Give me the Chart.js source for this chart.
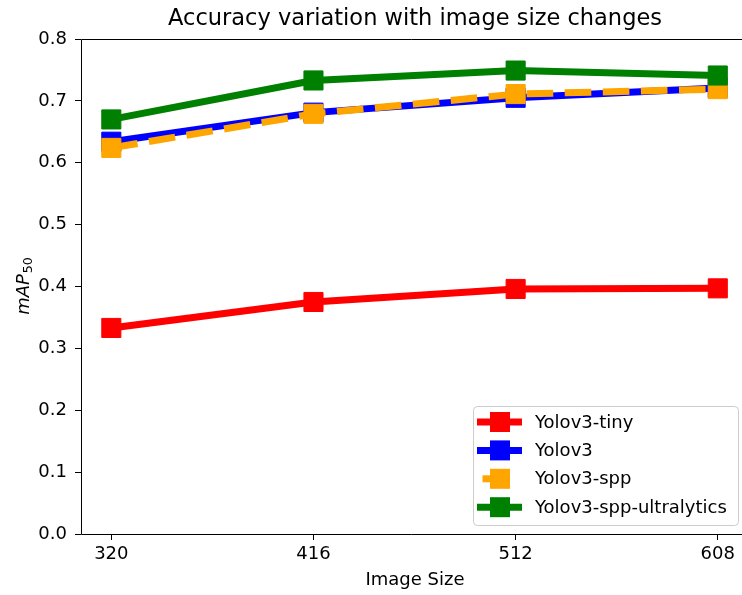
<!DOCTYPE html>
<html>
<head>
<meta charset="utf-8">
<script src="https://cdn.jsdelivr.net/npm/chart.js@4/dist/chart.umd.min.js"></script>
<style>
  html, body { margin: 0; padding: 0; background: #fff; }
  canvas { display: block; }
</style>
</head>
<body>
<canvas id="myChart" width="742" height="595"></canvas>
<script>
// image sizes and mAP50 per model
const sizes = [320, 416, 512, 608];
const tiny = [0.333, 0.375, 0.396, 0.397];
const yolov3 = [0.634, 0.681, 0.705, 0.721];
const spp = [0.624, 0.679, 0.711, 0.719];
const ultra = [0.670, 0.733, 0.749, 0.741];
const names = ['Yolov3-tiny', 'Yolov3', 'Yolov3-spp', 'Yolov3-spp-ultralytics'];
const colors = ['#ff0000', '#0000ff', '#ffa500', '#008000'];
const yTicks = [0, 0.1, 0.2, 0.3, 0.4, 0.5, 0.6, 0.7, 0.8];

const FONT = 'DejaVu Sans';
const DASH = [26.6, 11.5];
const ctx = document.getElementById('myChart').getContext('2d');

function makeSet(i, values, dashed) {
    return {
        label: names[i],
        data: sizes.map((s, k) => ({x: s, y: values[k]})),
        borderColor: colors[i],
        backgroundColor: colors[i],
        borderWidth: 7,
        borderDash: dashed ? DASH : [],
        borderCapStyle: 'butt',
        borderJoinStyle: 'round',
        pointStyle: 'rect',
        pointRadius: 13.5,
        pointBorderWidth: 1,
        pointBorderColor: colors[i],
        pointBackgroundColor: colors[i],
        tension: 0,
        order: 3 - i
    };
}

// axes frame, title, axis titles and legend
const decor = {
    id: 'decor',
    afterDatasetsDraw(chart) {
        const c = chart.ctx;
        const a = chart.chartArea;
        c.save();
        c.strokeStyle = '#000';
        c.lineWidth = 1;
        c.beginPath();
        c.moveTo(742, a.top + 0.5);
        c.lineTo(a.left + 0.5, a.top + 0.5);
        c.lineTo(a.left + 0.5, a.bottom + 0.5);
        c.lineTo(742, a.bottom + 0.5);
        c.stroke();

        const cx = (a.left + 749) / 2;
        c.fillStyle = '#000';
        c.textAlign = 'center';
        c.textBaseline = 'alphabetic';
        c.font = '22.5px "' + FONT + '"';
        c.fillText('Accuracy variation with image size changes', cx, 25);

        c.font = '18px "' + FONT + '"';
        c.fillText('Image Size', cx, 585);

        // y title: italic mAP with subscript 50
        c.save();
        c.translate(29, (a.top + a.bottom) / 2);
        c.rotate(-Math.PI / 2);
        c.font = 'italic 18px "' + FONT + '"';
        const w1 = c.measureText('mAP').width;
        c.font = '12.6px "' + FONT + '"';
        const w2 = c.measureText('50').width;
        const x0 = -(w1 + w2) / 2;
        c.textAlign = 'left';
        c.font = 'italic 18px "' + FONT + '"';
        c.fillText('mAP', x0, 0);
        c.font = '12.6px "' + FONT + '"';
        c.fillText('50', x0 + w1 + 1, 3);
        c.restore();

        // legend
        const lx = 473, ly = 406, lw = 265, lh = 119;
        c.beginPath();
        c.roundRect(lx + 0.5, ly + 0.5, lw, lh, 4);
        c.fillStyle = 'rgba(255,255,255,0.8)';
        c.fill();
        c.strokeStyle = '#cccccc';
        c.stroke();
        chart.data.datasets.forEach((ds, i) => {
            const y = 422 + i * 28.4;
            c.save();
            c.strokeStyle = ds.borderColor;
            c.lineWidth = 7;
            c.lineCap = 'butt';
            c.setLineDash(ds.borderDash);
            c.lineDashOffset = ds.borderDash.length ? 32.6 : 0;
            c.beginPath();
            c.moveTo(477, y);
            c.lineTo(ds.borderDash.length ? 512 : 522, y);
            c.stroke();
            c.restore();
            c.fillStyle = ds.backgroundColor;
            c.fillRect(490, y - 10, 20, 20);
            c.fillStyle = '#000';
            c.textAlign = 'left';
            c.textBaseline = 'middle';
            c.font = '18px "' + FONT + '"';
            c.fillText(ds.label, 535, y + 1);
        });
        c.restore();
    }
};

const myChart = new Chart(ctx, {
    type: 'line',
    data: {
        datasets: [
            makeSet(0, tiny, false),
            makeSet(1, yolov3, false),
            makeSet(2, spp, true),
            makeSet(3, ultra, false)
        ]
    },
    options: {
        responsive: false,
        animation: false,
        devicePixelRatio: 1,
        layout: { autoPadding: false, padding: { top: 39, right: 0, left: 0, bottom: 0 } },
        plugins: {
            legend: { display: false },
            title: { display: false },
            tooltip: { enabled: false }
        },
        scales: {
            x: {
                type: 'linear',
                min: 305.6,
                max: 619.5,
                afterBuildTicks: axis => { axis.ticks = sizes.map(v => ({value: v})); },
                afterFit: axis => {
                    axis.height = 61;
                    axis.paddingLeft = 0;
                    axis.paddingRight = 0;
                },
                ticks: {
                    color: '#000',
                    font: { family: FONT, size: 18 },
                    padding: 4,
                    maxRotation: 0,
                    callback: v => String(v)
                },
                grid: { drawOnChartArea: false, drawTicks: true, tickLength: 6, color: '#000' },
                border: { display: false }
            },
            y: {
                min: 0,
                max: 0.8,
                afterBuildTicks: axis => { axis.ticks = yTicks.map(v => ({value: v})); },
                afterFit: axis => { axis.width = 81; },
                ticks: {
                    color: '#000',
                    font: { family: FONT, size: 18 },
                    padding: 8,
                    callback: v => v.toFixed(1)
                },
                grid: { drawOnChartArea: false, drawTicks: true, tickLength: 6, color: '#000' },
                border: { display: false }
            }
        }
    },
    plugins: [decor]
});
</script>
</body>
</html>
